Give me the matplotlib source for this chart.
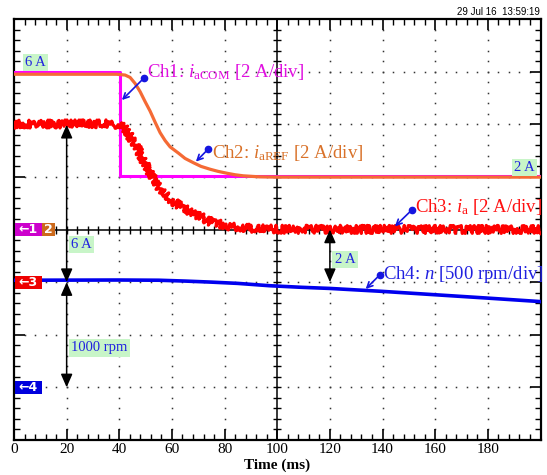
import matplotlib
matplotlib.use("Agg")
import matplotlib.pyplot as plt
from matplotlib.patches import Rectangle

# ---------------- data ----------------
# Ch1: commanded current i_aCOM [A]
t_com = [0, 40.3, 40.3, 200]
i_com = [6.0, 6.0, 2.03, 2.03]
# Ch2: reference current i_aREF [A]
t_ref = [0, 39, 42.2, 44.1, 46.0, 47.9, 49.8, 51.7, 53.6, 55.5, 57.4, 59.3,
         62.5, 65, 68.1, 71, 74.5, 77.5, 80.8, 84, 87.1, 93.4, 100, 200]
i_ref = [5.9, 5.9, 5.87, 5.78, 5.55, 5.24, 4.86, 4.5, 4.08, 3.68, 3.38, 3.14,
         2.9, 2.7, 2.54, 2.4, 2.29, 2.21, 2.14, 2.08, 2.04, 2.0, 1.99, 1.99]
# Ch3: measured current i_a [A]
t_a = [0, 36.5, 41.5, 44.1, 46.6, 49.1, 51.7, 54.2, 56.7, 60.5, 64.3, 69.4,
       74.5, 80.8, 89.6, 100, 200]
i_a = [6.0, 6.02, 5.91, 5.53, 5.15, 4.65, 4.14, 3.69, 3.38, 3.06, 2.81, 2.56,
       2.30, 2.14, 2.05, 2.01, 2.0]
# Ch4: speed n [rpm]
t_n = [0, 40, 55, 65, 75, 85, 97, 109, 120, 140, 160, 180, 200]
n_rpm = [1018, 1020, 1018, 1010, 1000, 988, 966, 951, 940, 912, 880, 848, 815]

# channel settings: (ground position in divisions, units per division)
ch1_gnd, ch1_scale = 4, 2.0
ch2_gnd, ch2_scale = 4, 2.0
ch3_gnd, ch3_scale = 3, 2.0
ch4_gnd, ch4_scale = 1, 500.0

x_ticks = [0, 20, 40, 60, 80, 100, 120, 140, 160, 180, 200]
x_tick_labels = ["0", "20", "40", "60", "80", "100", "120", "140", "160", "180", ""]

def to_div(vals, gnd, scale):
    return [gnd + v / scale for v in vals]

# ---------------- styling ----------------
plt.rcParams["font.family"] = ["Liberation Serif", "DejaVu Serif"]
plt.rcParams["mathtext.fontset"] = "custom"
plt.rcParams["mathtext.rm"] = "Liberation Serif"
plt.rcParams["mathtext.it"] = "Liberation Serif:italic"

MAG = "#ff00ff"
ORG = "#f56a35"
RED = "#ff0000"
BLU = "#0000ee"
ANN = "#1515e0"
GREENBOX = "#c8f5c8"

fig = plt.figure(figsize=(5.47, 4.75), dpi=100)
ax = fig.add_axes([14 / 547, 35 / 475, 526.5 / 547, 421 / 475])
ax.set_xlim(0, 200)
ax.set_ylim(0, 8)

for s in ax.spines.values():
    s.set_linewidth(1.6)

ax.set_xticks(x_ticks)
ax.set_xticklabels(x_tick_labels, fontsize=11)
ax.set_xticks([v * 4 for v in range(51)], minor=True)
ax.set_yticks(range(9))
ax.set_yticklabels([])
ax.set_yticks([v * 0.2 for v in range(41)], minor=True)
ax.tick_params(which="major", direction="in", length=8, width=1.2,
               top=True, right=True, pad=2)
ax.tick_params(which="minor", direction="in", length=4.5, width=1.0,
               top=True, right=True)
ax.set_xlabel("Time (ms)", fontsize=11, fontweight="bold", labelpad=1)
ax.xaxis.set_label_coords(0.5, -0.045)

# dotted grid
gx, gy = [], []
for xv in [20, 40, 60, 80, 120, 140, 160, 180]:
    for k in range(1, 40):
        gx.append(xv); gy.append(k * 0.2)
for yv in [1, 2, 3, 5, 6, 7]:
    for k in range(1, 50):
        gx.append(k * 4); gy.append(yv)
ax.plot(gx, gy, ls="none", marker="s", ms=1.1, color="#333333", mew=0, zorder=1)

# centre crosshair with cross ticks
ax.axhline(4, color="black", lw=1.1, zorder=1)
ax.axvline(100, color="black", lw=1.1, zorder=1)
ax.plot([k * 4 for k in range(1, 50)], [4] * 49, ls="none",
        marker="|", ms=6, mew=1.0, color="black", zorder=1)
ax.plot([100] * 39, [k * 0.2 for k in range(1, 40)], ls="none",
        marker="_", ms=6, mew=1.0, color="black", zorder=1)

# traces
ax.plot(t_com, to_div(i_com, ch1_gnd, ch1_scale), color=MAG, lw=2.2, zorder=3)
ax.plot(t_ref, to_div(i_ref, ch2_gnd, ch2_scale), color=ORG, lw=2.3, zorder=4)
ax.plot(t_n, to_div(n_rpm, ch4_gnd, ch4_scale), color=BLU, lw=2.6, zorder=3)
red_line, = ax.plot(t_a, to_div(i_a, ch3_gnd, ch3_scale), color=RED, lw=2.3, zorder=5)
red_line.set_sketch_params(scale=4.0, length=1.2, randomness=3.0)

# channel labels with pointer arrows
def chan_label(text, color, dot, tip, txt_pos):
    ax.annotate("", xy=tip, xytext=dot,
                arrowprops=dict(arrowstyle="->", color=ANN, lw=1.2,
                                shrinkA=0, shrinkB=0, mutation_scale=10),
                zorder=7)
    ax.plot([dot[0]], [dot[1]], marker="o", ms=4.5, color=ANN, zorder=8)
    ax.text(txt_pos[0], txt_pos[1], text, color=color, fontsize=13.5,
            ha="left", va="center", zorder=8)

chan_label(r"Ch1: $i_{\mathrm{aCOM}}$ [2 A/div]", "#e010e0", (49.4, 6.88), (41.0, 6.46), (50.5, 7.0))
chan_label(r"Ch2: $i_{\mathrm{aREF}}$ [2 A/div]", "#d9722a", (73.8, 5.53), (69.1, 5.29), (75.3, 5.45))
chan_label(r"Ch3: $i_{\mathrm{a}}$ [2 A/div]", "#ff1010", (151.1, 4.37), (144.7, 4.06), (152.3, 4.42))
chan_label(r"Ch4: $n$ [500 rpm/div]", "#2020e0", (139.0, 3.14), (133.6, 2.87), (140.3, 3.14))

# green value boxes
def value_box(x, y, text, ha="left"):
    ax.text(x, y, text, color="#2020e0", fontsize=10.5, ha=ha, va="center",
            bbox=dict(boxstyle="square,pad=0.15", fc=GREENBOX, ec="none"), zorder=9)

value_box(4.3, 7.17, "6 A")
value_box(197.8, 5.18, "2 A", ha="right")
value_box(21.8, 3.71, "6 A")
value_box(121.8, 3.43, "2 A")
value_box(21.8, 1.75, "1000 rpm")

# double-headed measurement arrows
def dbl_arrow(x, y0, y1):
    ax.annotate("", xy=(x, y1), xytext=(x, y0),
                arrowprops=dict(arrowstyle="<|-|>,head_length=0.8,head_width=0.35",
                                color="black", lw=1.1, shrinkA=0, shrinkB=0,
                                mutation_scale=10), zorder=6)

dbl_arrow(20, 5.99, 3.0)
dbl_arrow(20, 3.0, 1.0)
dbl_arrow(120, 4.0, 3.0)

# ground markers on the left edge
def gnd_marker(x0, x1, y, text, color):
    h = 0.125
    ax.add_patch(Rectangle((x0, y - h), x1 - x0, 2 * h, fc=color, ec="none",
                           zorder=10, clip_on=False))
    ax.text((x0 + x1) / 2, y, text, color="white", fontsize=9, fontweight="bold",
            family="DejaVu Sans", ha="center", va="center", zorder=11)

gnd_marker(0.3, 10.5, ch1_gnd, "←1", "#cc00cc")
gnd_marker(10.5, 15.6, ch2_gnd, "2", "#cc6a1c")
gnd_marker(0.3, 10.5, ch3_gnd, "←3", "#ee0000")
gnd_marker(0.3, 10.5, ch4_gnd, "←4", "#0000dd")

# timestamp
fig.text(540 / 547, 1 - 12 / 475, "29 Jul 16  13:59:19", fontsize=7,
         family="Liberation Sans", ha="right", va="center")

fig.savefig("out.png", dpi=100)
